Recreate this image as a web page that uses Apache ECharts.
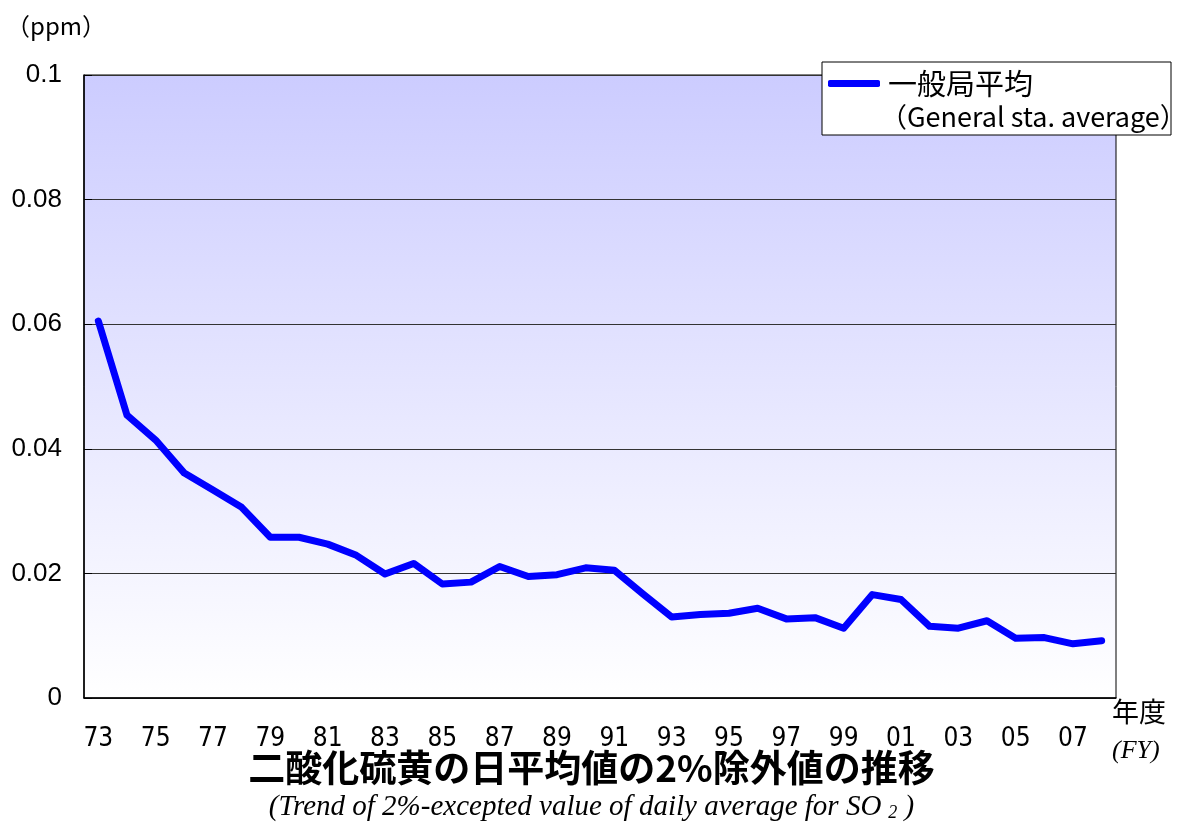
<!DOCTYPE html>
<html>
<head>
<meta charset="utf-8">
<script src="https://cdn.jsdelivr.net/npm/echarts@6/dist/echarts.min.js"></script>
<style>
  html, body { margin: 0; padding: 0; background: #fff; }
  #chart { width: 1183px; height: 825px; }
</style>
</head>
<body>
<div id="chart"></div>
<script>
// 二酸化硫黄 日平均値の2%除外値(一般局平均)の年度推移
const years = ['73', '74', '75', '76', '77', '78', '79', '80', '81', '82', '83', '84',
  '85', '86', '87', '88', '89', '90', '91', '92', '93', '94', '95', '96',
  '97', '98', '99', '00', '01', '02', '03', '04', '05', '06', '07', '08']
const generalAvg = [0.0605, 0.0454, 0.0414, 0.0361, 0.0334, 0.0306, 0.0258, 0.0258, 0.0247, 0.0229, 0.0199, 0.0216,
  0.0183, 0.0186, 0.0211, 0.0195, 0.0198, 0.0209, 0.0205, 0.0167, 0.0130, 0.0134, 0.0136, 0.0144,
  0.0127, 0.0129, 0.0112, 0.0166, 0.0158, 0.0115, 0.0112, 0.0124, 0.0096, 0.0097, 0.0087, 0.0092]
const yTicks = { min: 0, max: 0.1, interval: 0.02 }

const chart = echarts.init(document.getElementById('chart'))
const sans = '"Liberation Sans", "Noto Sans CJK JP", sans-serif'
const cjk = '"Noto Sans CJK JP", sans-serif'
const narrow = '"Liberation Sans Narrow", "DejaVu Sans Condensed", sans-serif'
const serif = '"Liberation Serif", "DejaVu Serif", serif'

chart.setOption({
  animation: false,
  title: {
    text: '二酸化硫黄の日平均値の2%除外値の推移',
    subtext: '(Trend of 2%-excepted value of daily average for SO{s|2}{t| )}',
    left: 'center', top: 749, itemGap: 6, padding: 0,
    textStyle: { fontFamily: cjk, fontSize: 37, fontWeight: 'bold', color: '#000' },
    subtextStyle: {
      fontFamily: serif, fontStyle: 'italic', fontSize: 29, color: '#000',
      rich: {
        s: { fontFamily: serif, fontStyle: 'italic', fontSize: 18, color: '#000', padding: [12, 0, 0, 7] },
        t: { fontFamily: serif, fontStyle: 'italic', fontSize: 29, color: '#000' },
      },
    },
  },
  legend: {
    left: 822, top: 62,
    padding: [7, 138, 37, 6],
    backgroundColor: '#fff', borderColor: '#000', borderWidth: 1,
    icon: 'roundRect', itemWidth: 52, itemHeight: 7,
    textStyle: { fontFamily: cjk, fontSize: 29, color: '#000', padding: [0, 0, 0, 3] },
    data: ['一般局平均'],
  },
  graphic: [
    { type: 'text', x: 880, y: 117, z: 100,
      style: { text: '（General sta. average）', font: '27px ' + cjk, fill: '#000', verticalAlign: 'middle' } },
    { type: 'text', x: 6, y: 26,
      style: { text: '（ppm）', font: '24px ' + cjk, fill: '#000', verticalAlign: 'middle' } },
    { type: 'text', x: 1112, y: 712,
      style: { text: '年度', font: '27px ' + cjk, fill: '#000', verticalAlign: 'middle' } },
    { type: 'text', x: 1112, y: 751,
      style: { text: '(FY)', font: 'italic 26px ' + serif, fill: '#000', verticalAlign: 'middle' } },
  ],
  grid: {
    left: 84, right: 67, top: 75, bottom: 127,
    show: true, borderColor: '#000', borderWidth: 1,
    backgroundColor: new echarts.graphic.LinearGradient(0, 0, 0, 1, [
      { offset: 0, color: '#ccccff' },
      { offset: 1, color: '#ffffff' },
    ]),
  },
  xAxis: {
    type: 'category', data: years, boundaryGap: true,
    axisLine: { lineStyle: { color: '#000', width: 1.5 } },
    axisTick: { inside: true, length: 8, interval: 0, lineStyle: { color: '#000' } },
    axisLabel: { interval: 1, margin: 28, fontFamily: narrow, fontSize: 26, color: '#000' },
    splitLine: { show: false },
  },
  yAxis: {
    type: 'value', min: yTicks.min, max: yTicks.max, interval: yTicks.interval,
    axisLine: { show: true, lineStyle: { color: '#000', width: 1.5 } },
    axisTick: { show: true, inside: true, length: 8, lineStyle: { color: '#000' } },
    axisLabel: { margin: 22, fontFamily: sans, fontSize: 26, color: '#000' },
    splitLine: { show: true, lineStyle: { color: '#333', width: 1 } },
  },
  series: [{
    name: '一般局平均', type: 'line', data: generalAvg,
    symbol: 'none', z: 5,
    lineStyle: { color: '#0000ff', width: 7, cap: 'round', join: 'round' },
    itemStyle: { color: '#0000ff' },
  }],
})
</script>
</body>
</html>
